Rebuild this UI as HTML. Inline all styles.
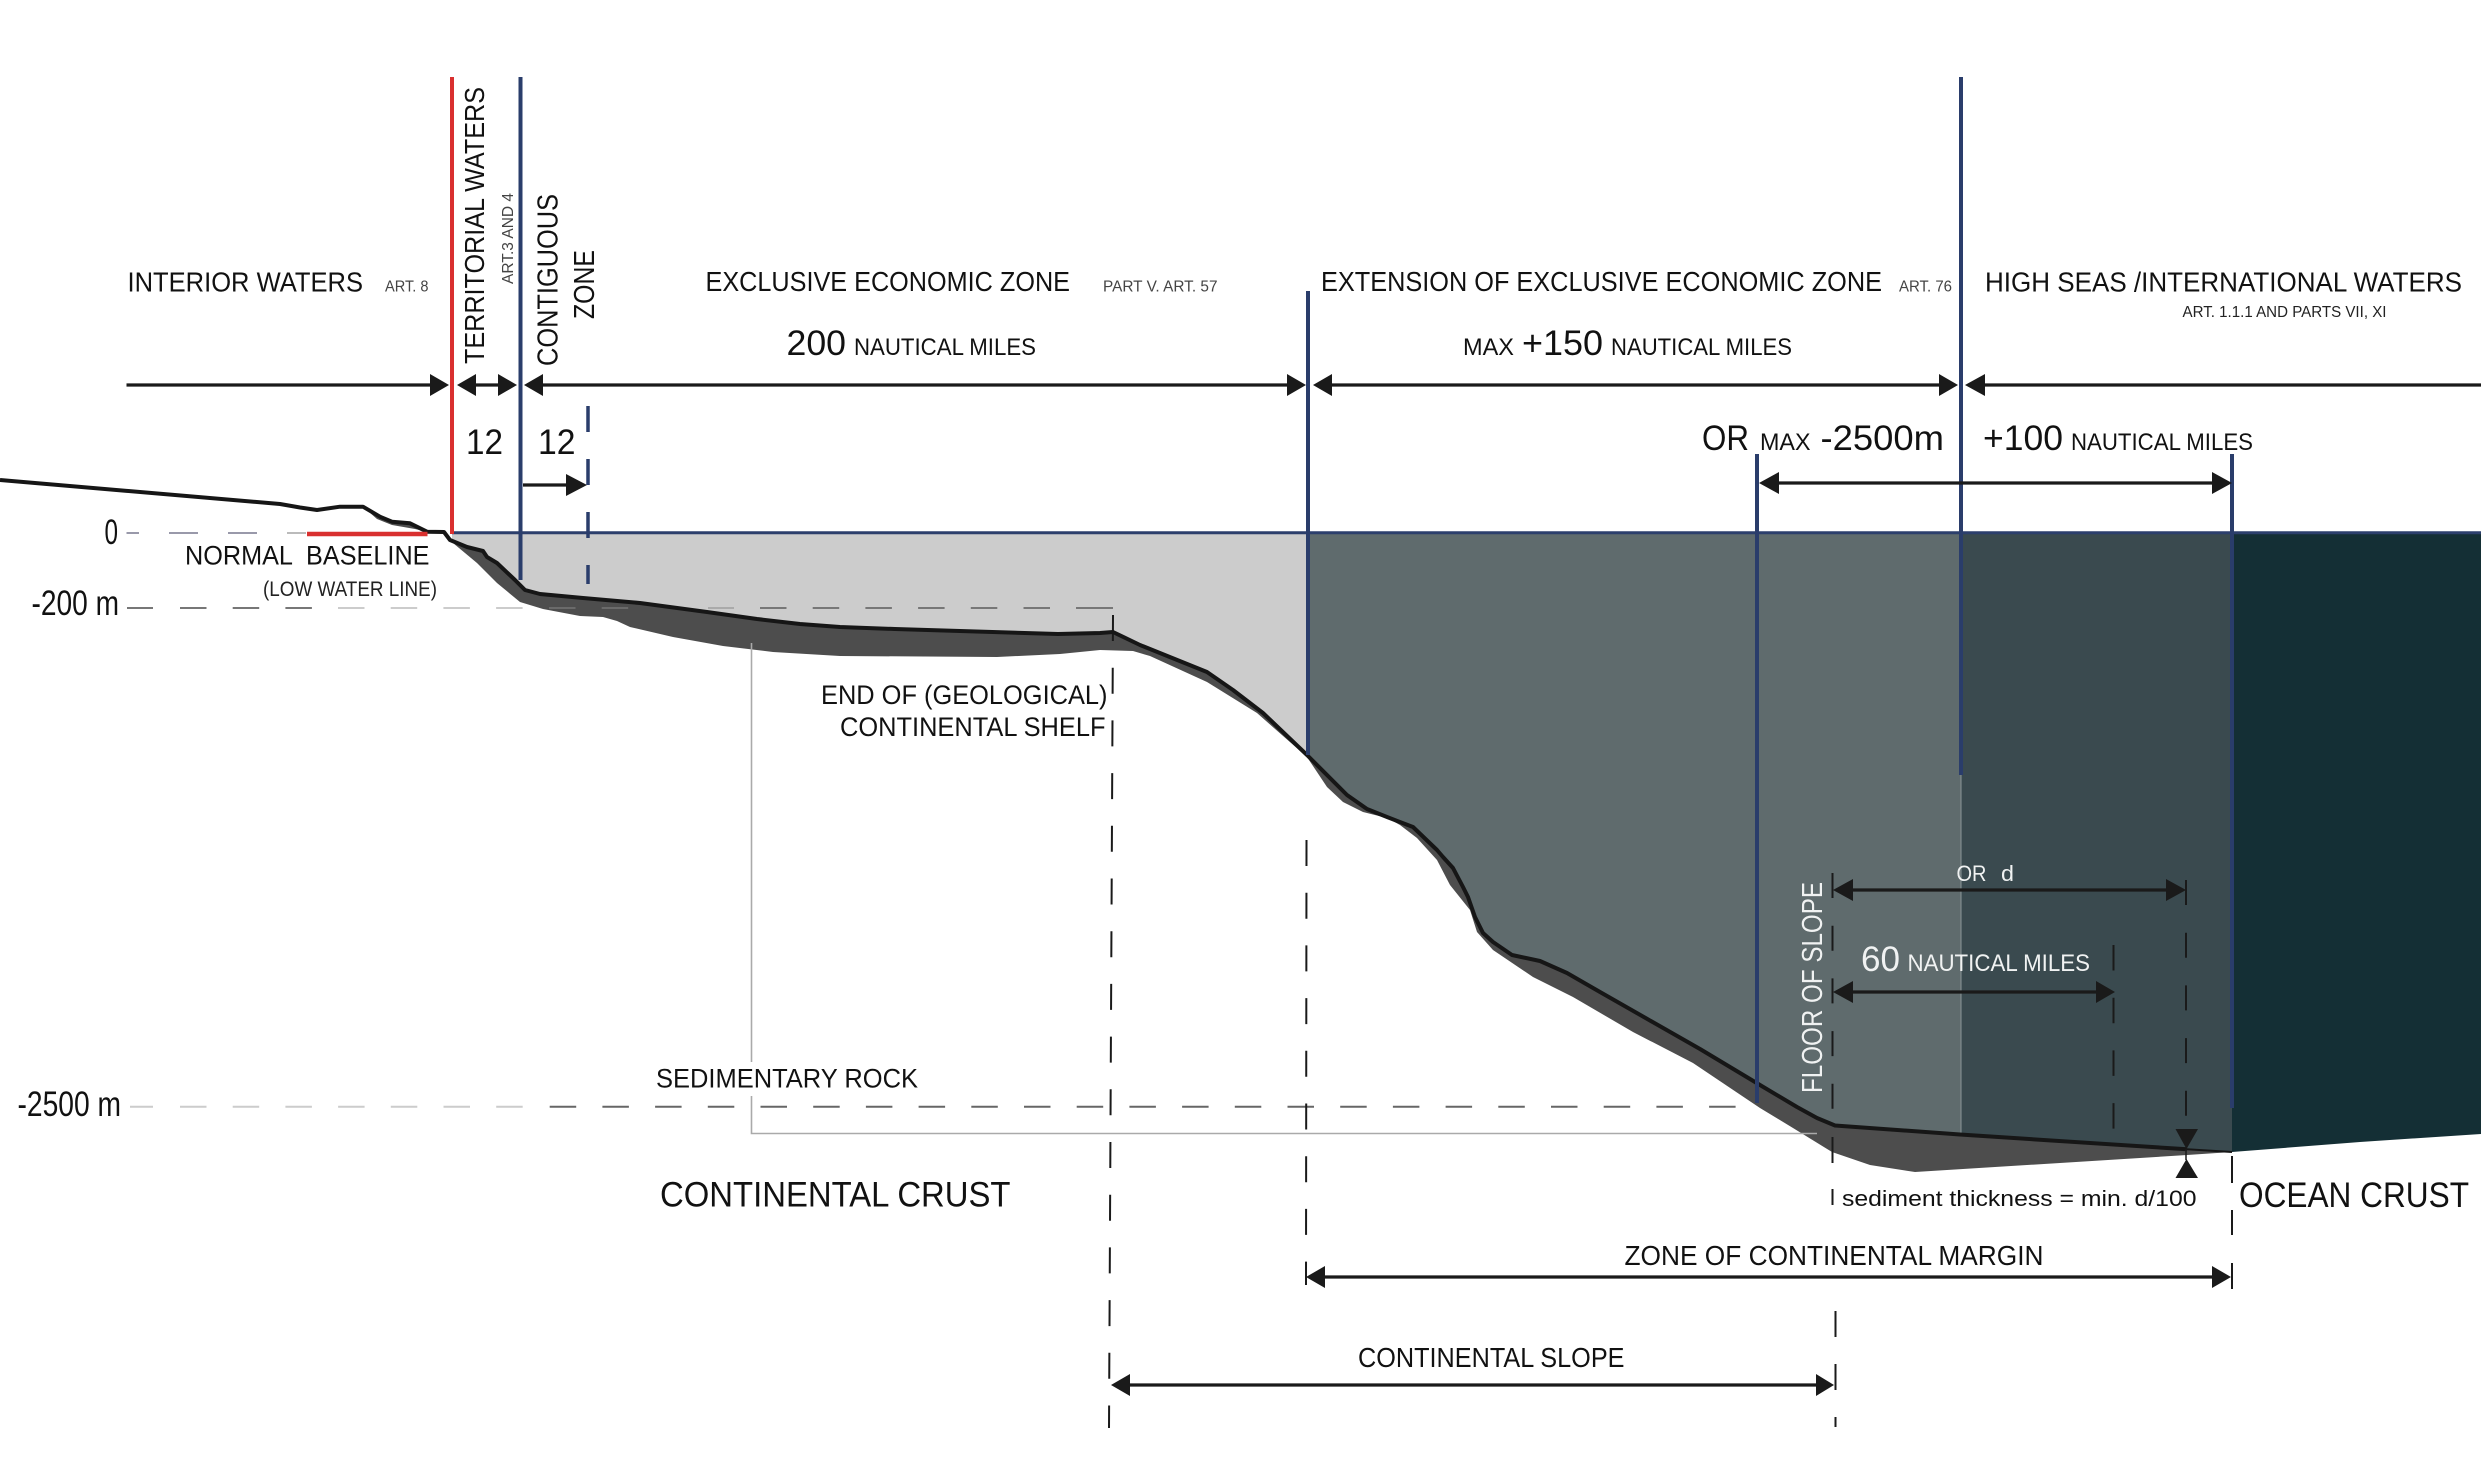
<!DOCTYPE html>
<html><head><meta charset="utf-8"><title>Maritime zones</title>
<style>html,body{margin:0;padding:0;background:#fff;width:2481px;height:1466px;overflow:hidden}svg{display:block}
text{font-family:"Liberation Sans",sans-serif;fill:#111;white-space:pre}</style></head><body>
<svg xmlns="http://www.w3.org/2000/svg" width="2481" height="1466" viewBox="0 0 2481 1466">
<defs><clipPath id="w"><polygon points="452,533 2232,533 2232,1152 2187,1149.3 1960,1134.5 1835,1125.5 1817,1118 1797,1107 1760,1085 1700,1049 1600,992 1567,973 1540,961 1512,955 1493,942 1483,933 1475,917 1468,897 1463,887 1453,868 1443,857 1437,850 1413,827 1387,817 1367,809 1347,795 1307,755 1263,713 1233,690 1207,672 1140,645 1113,632 1100,633 1058,634 895,629 840,627 800,624 757,619 707,612 640,603 583,598 540,594 525,590 515,580 497,563 487,557 483,551 467,547 452,541"/></clipPath></defs>
<rect width="2481" height="1466" fill="#fff"/>
<g clip-path="url(#w)">
<rect x="440" y="533" width="868" height="700" fill="#cccccc"/>
<rect x="1308" y="533" width="653" height="700" fill="#5f6b6d"/>
<rect x="1961" y="533" width="271" height="700" fill="#3a4a4f"/>
</g>
<polygon points="2232,534 2481,534 2481,1134 2360,1142 2232,1152" fill="#142f35"/>
<polygon points="444,532 450,540 467,547 483,551 487,557 497,563 515,580 525,590 540,594 583,598 640,603 707,612 757,619 800,624 840,627 895,629 1058,634 1100,633 1113,632 1140,645 1207,672 1233,690 1263,713 1307,755 1347,795 1367,809 1387,817 1413,827 1437,850 1443,857 1453,868 1463,887 1468,897 1475,917 1483,933 1493,942 1512,955 1540,961 1567,973 1600,992 1700,1049 1760,1085 1797,1107 1817,1118 1835,1125.5 1960,1134.5 2187,1149.3 2232,1152 2187,1155 1915,1172 1870,1165 1832,1152 1793,1128 1760,1108 1693,1063 1633,1032 1573,997 1533,977 1493,950 1477,932 1470,910 1450,885 1437,860 1417,838 1400,825 1387,818 1363,812 1343,802 1327,787 1307,757 1257,713 1207,682 1150,656 1133,651 1100,650 1060,654 997,657 840,656 773,652 723,646 673,637 630,627 617,621 603,617 580,616 543,609 520,602 497,583 477,563 447,538" fill="#4d4d4d"/>
<polygon points="363,506.7 380,516.7 392,521.7 410,523.3 427,531.7 415,529 392,525 377,519" fill="#4d4d4d"/>
<!-- sediment rock box -->
<polyline points="751.5,643 751.5,1062" fill="none" stroke="#aaa" stroke-width="1.6"/>
<polyline points="751.5,1096 751.5,1133.5 1817,1133.5" fill="none" stroke="#aaa" stroke-width="1.6"/>
<line x1="1961" y1="534" x2="1961" y2="1134" stroke="#8b9598" stroke-width="1"/>
<!-- depth dashes -->
<line x1="126.5" y1="533" x2="139" y2="533" stroke="#99a" stroke-width="2"/><line x1="169" y1="533" x2="198" y2="533" stroke="#99a" stroke-width="2"/><line x1="228" y1="533" x2="257" y2="533" stroke="#99a" stroke-width="2"/><line x1="287" y1="533" x2="306" y2="533" stroke="#bbb" stroke-width="2"/>
<line x1="127" y1="608" x2="153" y2="608" stroke="#777" stroke-width="2"/>
<line x1="180" y1="608" x2="312" y2="608" stroke="#777" stroke-width="2" stroke-dasharray="26.5 26.2"/>
<line x1="338" y1="608" x2="523" y2="608" stroke="#ccc" stroke-width="2" stroke-dasharray="26.5 26.2"/>
<line x1="549" y1="608" x2="629" y2="608" stroke="#6a6a6a" stroke-width="2" stroke-dasharray="26.5 26.2"/>
<line x1="708" y1="608" x2="734" y2="608" stroke="#aaa" stroke-width="2"/>
<line x1="760" y1="608" x2="1076" y2="608" stroke="#777" stroke-width="2" stroke-dasharray="26.5 26.2"/>
<line x1="1076" y1="608" x2="1113" y2="608" stroke="#777" stroke-width="2"/>
<line x1="130" y1="1106.7" x2="153" y2="1106.7" stroke="#ccc" stroke-width="2"/>
<line x1="180" y1="1106.7" x2="523" y2="1106.7" stroke="#ccc" stroke-width="2" stroke-dasharray="26.5 26.2"/>
<line x1="549.7" y1="1106.7" x2="1740" y2="1106.7" stroke="#666" stroke-width="2" stroke-dasharray="26.5 26.2"/>
<!-- vertical dashes -->
<g stroke="#1a1a1a" stroke-width="2" fill="none">
<line x1="1113" y1="615" x2="1109" y2="1428" stroke-dasharray="26 26.7"/>
<line x1="1306.5" y1="840" x2="1306" y2="1285" stroke-dasharray="26 26.7"/>
<line x1="1832.5" y1="873" x2="1832.5" y2="1110" stroke-dasharray="25 27.7"/>
<line x1="1832.5" y1="1137" x2="1832.5" y2="1163"/><line x1="1832.5" y1="1189" x2="1832.5" y2="1205"/>
<line x1="1835.5" y1="1311" x2="1835.5" y2="1337"/><line x1="1835.5" y1="1364" x2="1835.5" y2="1390"/><line x1="1835.5" y1="1417" x2="1835.5" y2="1427"/>
<line x1="2113.5" y1="945" x2="2113.5" y2="1130" stroke-dasharray="25.5 27.2"/>
<line x1="2186" y1="880" x2="2186" y2="1118" stroke-dasharray="25 27.7"/>
<line x1="2232" y1="1156" x2="2232" y2="1183"/><line x1="2232" y1="1210" x2="2232" y2="1235"/><line x1="2232" y1="1263" x2="2232" y2="1289"/>
</g>
<!-- seabed + land lines -->
<polyline points="0,480 280,504 300,507.5 317,510 340,506.7 363,506.7 380,516.7 392,521.7 410,523.3 427,531.7 444,532 450,540 467,547 483,551 487,557 497,563 515,580 525,590 540,594 583,598 640,603 707,612 757,619 800,624 840,627 895,629 1058,634 1100,633 1113,632 1140,645 1207,672 1233,690 1263,713 1307,755 1347,795 1367,809 1387,817 1413,827 1437,850 1443,857 1453,868 1463,887 1468,897 1475,917 1483,933 1493,942 1512,955 1540,961 1567,973 1600,992 1700,1049 1760,1085 1797,1107 1817,1118 1835,1125.5 1960,1134.5 2187,1149.3" fill="none" stroke="#161616" stroke-width="4" stroke-linejoin="round"/>
<polyline points="2187,1149.3 2232,1152" fill="none" stroke="#161616" stroke-width="2"/>
<!-- water line -->
<line x1="452" y1="532.7" x2="2481" y2="532.7" stroke="#2c3f6c" stroke-width="3"/>
<line x1="307" y1="534" x2="427.5" y2="534" stroke="#d9302f" stroke-width="4.5"/>
<!-- zone lines -->
<line x1="452" y1="77" x2="452" y2="534" stroke="#d9302f" stroke-width="4"/>
<g stroke="#2a3d6b" stroke-width="4">
<line x1="520.5" y1="77" x2="520.5" y2="580"/>
<line x1="1308" y1="291" x2="1308" y2="755"/>
<line x1="1757" y1="454" x2="1757" y2="1103"/>
<line x1="1961" y1="77" x2="1961" y2="775"/>
<line x1="2232" y1="454" x2="2232" y2="1108"/>
<line x1="588" y1="406" x2="588" y2="584" stroke-dasharray="26 27" stroke-width="3.5"/>
</g>
<!-- arrows -->
<g stroke="#1a1a1a" stroke-width="3.2">
<line x1="126.5" y1="385" x2="432" y2="385"/>
<line x1="474" y1="385" x2="500" y2="385"/>
<line x1="541" y1="385" x2="1290" y2="385"/>
<line x1="1330" y1="385" x2="1941" y2="385"/>
<line x1="1983" y1="385" x2="2481" y2="385"/>
<line x1="523" y1="485" x2="568" y2="485"/>
<line x1="1777" y1="483" x2="2214" y2="483"/>
<line x1="1851" y1="890" x2="2168" y2="890"/>
<line x1="1851" y1="992" x2="2098" y2="992"/>
<line x1="1323" y1="1277" x2="2214" y2="1277"/>
<line x1="1128" y1="1385" x2="1818" y2="1385"/>
<line x1="2186" y1="1149" x2="2186" y2="1160" stroke-width="1.5"/>
</g>
<g fill="#1a1a1a">
<polygon points="449,385 430,374 430,396"/>
<polygon points="457,385 476,374 476,396"/>
<polygon points="517,385 498,374 498,396"/>
<polygon points="524,385 543,374 543,396"/>
<polygon points="1306,385 1287,374 1287,396"/>
<polygon points="1313,385 1332,374 1332,396"/>
<polygon points="1958,385 1939,374 1939,396"/>
<polygon points="1965,385 1985,374 1985,396"/>
<polygon points="587,485 566,474 566,496"/>
<polygon points="1759,483 1779,472 1779,494"/>
<polygon points="2232,483 2212,472 2212,494"/>
<polygon points="1833,890 1853,879 1853,901"/>
<polygon points="2186,890 2166,879 2166,901"/>
<polygon points="1833,992 1853,981 1853,1003"/>
<polygon points="2115,992 2096,981 2096,1003"/>
<polygon points="1306,1277 1325,1266 1325,1288"/>
<polygon points="2231,1277 2212,1266 2212,1288"/>
<polygon points="1111,1385 1130,1374 1130,1396"/>
<polygon points="1834,1385 1816,1374 1816,1396"/>
<polygon points="2175.5,1129 2198,1129 2186.5,1149"/>
<polygon points="2175.5,1178 2198,1178 2186.5,1159"/>
</g>
<!-- horizontal text -->
<g font-size="28">
<text x="127.5" y="291.5" textLength="235.5" lengthAdjust="spacingAndGlyphs">INTERIOR WATERS</text>
<text x="705.5" y="291" textLength="364.5" lengthAdjust="spacingAndGlyphs">EXCLUSIVE ECONOMIC ZONE</text>
<text x="1321" y="291" textLength="561" lengthAdjust="spacingAndGlyphs">EXTENSION OF EXCLUSIVE ECONOMIC ZONE</text>
<text x="1985" y="291.5" textLength="477" lengthAdjust="spacingAndGlyphs">HIGH SEAS /INTERNATIONAL WATERS</text>
<text x="185" y="564.5" font-size="27" textLength="244.5" lengthAdjust="spacingAndGlyphs">NORMAL  BASELINE</text>
<text x="821" y="704" font-size="27" textLength="286.5" lengthAdjust="spacingAndGlyphs">END OF (GEOLOGICAL)</text>
<text x="840" y="736" font-size="27" textLength="265.5" lengthAdjust="spacingAndGlyphs">CONTINENTAL SHELF</text>
<text x="656" y="1087.7" font-size="27" textLength="262" lengthAdjust="spacingAndGlyphs">SEDIMENTARY ROCK</text>
<text x="1624.5" y="1265" textLength="419" lengthAdjust="spacingAndGlyphs">ZONE OF CONTINENTAL MARGIN</text>
<text x="1358" y="1367" textLength="266.5" lengthAdjust="spacingAndGlyphs">CONTINENTAL SLOPE</text>
</g>
<g font-size="35">
<text x="660" y="1206.7" textLength="350.5" lengthAdjust="spacingAndGlyphs">CONTINENTAL CRUST</text>
<text x="2239" y="1207" textLength="230" lengthAdjust="spacingAndGlyphs">OCEAN CRUST</text>
<text x="466" y="454" textLength="37" lengthAdjust="spacingAndGlyphs">12</text>
<text x="538" y="454" textLength="37.5" lengthAdjust="spacingAndGlyphs">12</text>
<text x="104.5" y="544" textLength="13.5" lengthAdjust="spacingAndGlyphs">0</text>
<text x="31.5" y="615" textLength="87.5" lengthAdjust="spacingAndGlyphs">-200 m</text>
<text x="17.5" y="1116" textLength="103.5" lengthAdjust="spacingAndGlyphs">-2500 m</text>
<text x="786.5" y="355" textLength="59.5" lengthAdjust="spacingAndGlyphs">200</text>
<text x="1522" y="355" textLength="81" lengthAdjust="spacingAndGlyphs">+150</text>
<text x="1702" y="450" textLength="47" lengthAdjust="spacingAndGlyphs">OR</text>
<text x="1820.5" y="450" textLength="123.5" lengthAdjust="spacingAndGlyphs">-2500m</text>
<text x="1983" y="450" textLength="80" lengthAdjust="spacingAndGlyphs">+100</text>
</g>
<g font-size="24">
<text x="854" y="355" textLength="182" lengthAdjust="spacingAndGlyphs">NAUTICAL MILES</text>
<text x="1463" y="355" textLength="51" lengthAdjust="spacingAndGlyphs">MAX</text>
<text x="1611" y="355" textLength="181" lengthAdjust="spacingAndGlyphs">NAUTICAL MILES</text>
<text x="1760" y="450" textLength="50.5" lengthAdjust="spacingAndGlyphs">MAX</text>
<text x="2071" y="450" textLength="182" lengthAdjust="spacingAndGlyphs">NAUTICAL MILES</text>
</g>
<g font-size="16" style="fill:#444">
<text x="385" y="291.5" textLength="43.5" lengthAdjust="spacingAndGlyphs" style="fill:#444">ART. 8</text>
<text x="1103" y="291.5" textLength="114.5" lengthAdjust="spacingAndGlyphs" style="fill:#444">PART V. ART. 57</text>
<text x="1899" y="291.7" textLength="53" lengthAdjust="spacingAndGlyphs" style="fill:#444">ART. 76</text>
<text x="2182.5" y="317" textLength="204" lengthAdjust="spacingAndGlyphs" style="fill:#222">ART. 1.1.1 AND PARTS VII, XI</text>
<text transform="translate(513,284) rotate(-90)" textLength="91" lengthAdjust="spacingAndGlyphs" style="fill:#444">ART.3 AND 4</text>
</g>
<text x="263" y="596" font-size="21" textLength="174" lengthAdjust="spacingAndGlyphs" style="fill:#222">(LOW WATER LINE)</text>
<text x="1842" y="1206" font-size="22" textLength="354.5" lengthAdjust="spacingAndGlyphs">sediment thickness = min. d/100</text>
<!-- rotated -->
<g font-size="28">
<text transform="translate(484,364) rotate(-90)" textLength="277" lengthAdjust="spacingAndGlyphs">TERRITORIAL WATERS</text>
<text transform="translate(557.5,366) rotate(-90)" font-size="29" textLength="172" lengthAdjust="spacingAndGlyphs">CONTIGUOUS</text>
<text transform="translate(594,319) rotate(-90)" font-size="29" textLength="69" lengthAdjust="spacingAndGlyphs">ZONE</text>
</g>
<!-- white text on water -->
<text transform="translate(1822,1093) rotate(-90)" font-size="29" textLength="211" lengthAdjust="spacingAndGlyphs" style="fill:#f0f2f2">FLOOR OF SLOPE</text>
<text x="1956.5" y="881" font-size="22" textLength="30" lengthAdjust="spacingAndGlyphs" style="fill:#f0f2f2">OR</text>
<text x="2001" y="881" font-size="22" textLength="13" lengthAdjust="spacingAndGlyphs" style="fill:#f0f2f2">d</text>
<text x="1861" y="971" font-size="35" textLength="39" lengthAdjust="spacingAndGlyphs" style="fill:#f0f2f2">60</text>
<text x="1907.5" y="971" font-size="24" textLength="182.5" lengthAdjust="spacingAndGlyphs" style="fill:#f0f2f2">NAUTICAL MILES</text>
</svg>
</body></html>
